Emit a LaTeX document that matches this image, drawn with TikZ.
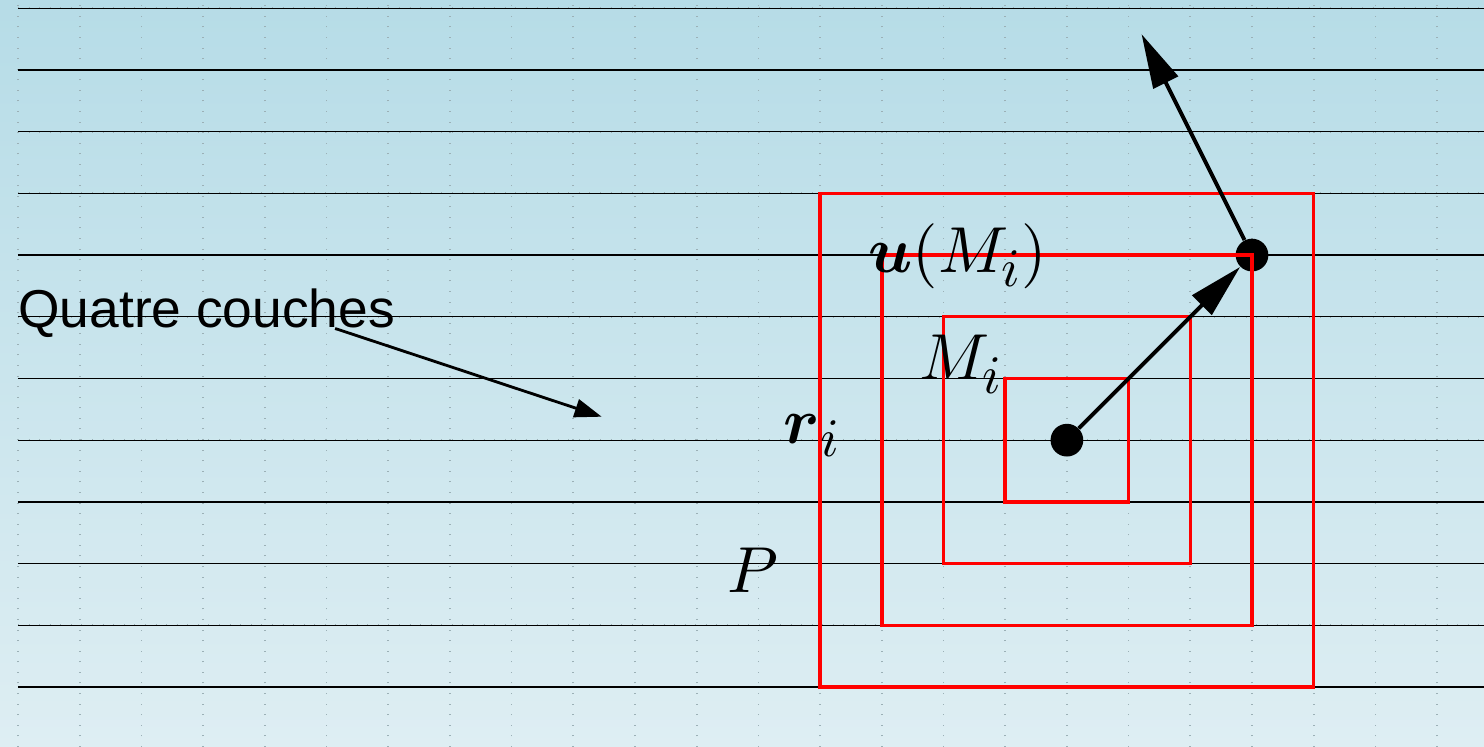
\documentclass[tikz,border=0pt]{standalone}
\usepackage{amsmath}
\usepackage{fontspec}
\newfontfamily\notesans{Liberation Sans}
\DeclareFontShape{OT1}{cmr}{m}{n}{<->cmr10}{}
\DeclareFontShape{OT1}{cmr}{bx}{n}{<->cmbx10}{}
\DeclareFontShape{OML}{cmm}{m}{it}{<->cmmi10}{}
\DeclareFontShape{OML}{cmm}{b}{it}{<->cmmib10}{}
\DeclareFontShape{OMS}{cmsy}{m}{n}{<->cmsy10}{}
\DeclareFontShape{OMX}{cmex}{m}{n}{<->cmex10}{}
\DeclareMathSizes{30}{30}{25}{20}
\usetikzlibrary{arrows.meta, calc}
\definecolor{SkyTop}{RGB}{182,220,231}
\definecolor{SkyBottom}{RGB}{222,238,243}
\definecolor{DotGray}{RGB}{155,176,182}
\definecolor{LayerRed}{RGB}{255,0,0}
\tikzset{
  ruled/.style={draw=black, line width=0.6pt},
  dotgrid/.style={draw=DotGray, line width=0.8pt, dash pattern=on 0.45pt off 4.43pt},
  layer/.style={draw=LayerRed, line width=1.6pt},
  point/.style={circle, fill=black, minimum size=0.53cm, inner sep=0pt},
  mathlabel/.style={anchor=base west, inner sep=0pt, font=\fontsize{30}{36}\selectfont},
  notelabel/.style={anchor=base west, inner sep=0pt, font=\notesans\fontsize{24.6}{30}\selectfont},
  vecarrow/.style={-{Triangle[length=25pt, width=12.5pt]}, line width=1.8pt},
  notearrow/.style={-{Triangle[length=12.5pt, width=8.5pt]}, line width=1.3pt}
}

\begin{document}
\begin{tikzpicture}
\path[use as bounding box, top color=SkyTop, bottom color=SkyBottom] (-0.2917,-0.972) rectangle (23.76,11.134);
% ruled paper
\foreach \x in {0,...,23}
  \draw[dotgrid] (\x,-0.972) -- (\x,11.134);
\foreach \y in {0,...,11}
  \draw[dotgrid] (0,\y) -- (23.76,\y);
\foreach \y in {0,...,11}
  \draw[ruled] (0,\y) -- (23.76,\y);

% points and the four layers
\node[point] (mi) at (17,4) {};
\node[point] (umi) at (20,7) {};
\foreach \k in {1,...,4}
  \draw[layer] (17-\k,4-\k) rectangle (17+\k,4+\k);

\node[mathlabel] (lu) at (13.78,6.71) {$\boldsymbol{u}(M_i)$};
\node[mathlabel] (lm) at (14.6,4.98) {$M_i$};
\node[mathlabel] (lr) at (12.40,3.95) {$\boldsymbol{r}_i$};
\node[mathlabel] (lp) at (11.5,1.53) {$P$};
\node[notelabel] (qc) at (0,5.82) {Quatre couches};

\coordinate (qcfrom) at (5.14,5.81);
\coordinate (qcto) at (9.46,4.38);
\coordinate (utip) at (18.21,10.58);

\draw[notearrow] (qcfrom) -- (qcto);
\draw[vecarrow] (mi) -- (umi);
\draw[vecarrow] (umi) -- (utip);
\end{tikzpicture}
\end{document}
